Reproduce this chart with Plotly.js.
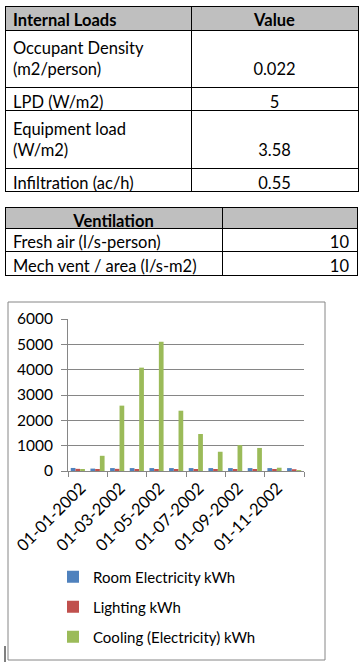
<!DOCTYPE html>
<html>
<head>
<meta charset="utf-8">
<script src="https://cdn.plot.ly/plotly-3.0.1.min.js"></script>
<style>html,body{margin:0;padding:0;background:#fff;}#chart{width:364px;height:667px;}</style>
</head>
<body>
<div id="chart"></div>
<script>
// ---- Table data ----
const loadsHeader = ['Internal Loads', 'Value'];
const loadsNames = ['Occupant Density<br>(m2/person)', 'LPD (W/m2)', 'Equipment load<br>(W/m2)', 'Infiltration (ac/h)'];
const loadsValues = ['\u00a0<br>0.022', '5', '\u00a0<br>3.58', '0.55'];

const ventHeader = ['Ventilation', ''];
const ventNames = ['Fresh air (l/s-person)', 'Mech vent / area (l/s-m2)'];
const ventValues = ['10', '10'];

// ---- Chart data ----
const months = ['01-01-2002','01-02-2002','01-03-2002','01-04-2002','01-05-2002','01-06-2002',
                '01-07-2002','01-08-2002','01-09-2002','01-10-2002','01-11-2002','01-12-2002'];
const roomElectricity = [120, 95, 115, 115, 115, 115, 115, 115, 115, 115, 115, 115];
const lighting = [85, 80, 85, 80, 80, 80, 80, 80, 80, 80, 80, 70];
const cooling = [80, 600, 2580, 4080, 5100, 2380, 1460, 760, 1020, 910, 130, 35];
const seriesNames = ['Room Electricity kWh', 'Lighting kWh', 'Cooling (Electricity) kWh'];

const W = 364, H = 667;
const px = v => v / W;
const py = v => 1 - v / H;
const FONT = 'Lato, "Liberation Sans", sans-serif';
// non-breaking spaces keep each table row on one line
const nb = s => s.replace(/ /g, '\u00a0');

const tableLine = {color: '#000000', width: 1};
const cellFont = {family: FONT, size: 16.5, color: '#000'};
const headFont = {family: FONT, size: 16.5, color: '#000', weight: 'bold'};

const traces = [
  {
    type: 'table',
    domain: {x: [px(5), px(358)], y: [py(205), py(6)]},
    columnwidth: [186, 167],
    header: {
      values: loadsHeader.map(nb),
      align: ['left', 'center'],
      fill: {color: '#bfbfbf'},
      line: tableLine,
      font: headFont,
      height: 24
    },
    cells: {
      values: [loadsNames.map(nb), loadsValues],
      align: ['left', 'center'],
      fill: {color: '#ffffff'},
      line: tableLine,
      font: cellFont,
      height: 23.5
    }
  },
  {
    type: 'table',
    domain: {x: [px(5), px(357)], y: [py(290), py(207)]},
    columnwidth: [217, 135],
    header: {
      values: ventHeader.map(nb),
      align: ['center', 'center'],
      fill: {color: '#bfbfbf'},
      line: tableLine,
      font: headFont,
      height: 21
    },
    cells: {
      values: [ventNames.map(nb), ventValues],
      align: ['left', 'right'],
      fill: {color: '#ffffff'},
      line: tableLine,
      font: cellFont,
      height: 23.5
    }
  },
  {type: 'bar', x: months, y: roomElectricity, name: seriesNames[0], marker: {color: '#4f81bd'}, legend: 'legend'},
  {type: 'bar', x: months, y: lighting, name: seriesNames[1], marker: {color: '#c0504d'}, legend: 'legend2'},
  {type: 'bar', x: months, y: cooling, name: seriesNames[2], marker: {color: '#9bbb59'}, legend: 'legend3'}
];

const legendBase = {
  orientation: 'v', xanchor: 'left', yanchor: 'middle',
  font: {family: FONT, size: 15, color: '#000'},
  bgcolor: 'rgba(0,0,0,0)', itemwidth: 30
};

const layout = {
  width: W, height: H,
  margin: {l: 0, r: 0, t: 0, b: 0},
  paper_bgcolor: '#fff', plot_bgcolor: '#fff',
  font: {family: FONT, size: 14, color: '#000'},
  barmode: 'group', bargap: 0.28, bargroupgap: 0,
  showlegend: true,
  legend: Object.assign({x: px(53), y: py(577)}, legendBase),
  legend2: Object.assign({x: px(53), y: py(607)}, legendBase),
  legend3: Object.assign({x: px(53), y: py(637)}, legendBase),
  xaxis: {
    type: 'category',
    domain: [px(68), px(304)],
    anchor: 'y',
    dtick: 2,
    tickson: 'boundaries',
    ticks: 'outside', ticklen: 5, tickcolor: '#868686',
    showline: true, linecolor: '#868686', linewidth: 1,
    showgrid: false,
    tickangle: -45,
    ticklabelshift: 3,
    tickfont: {family: FONT, size: 16.5, color: '#000'},
    fixedrange: true
  },
  yaxis: {
    domain: [py(471), py(319)],
    anchor: 'x',
    range: [0, 6000], dtick: 1000,
    ticks: 'outside', ticklen: 6, tickcolor: '#868686',
    showline: true, linecolor: '#868686', linewidth: 1,
    showgrid: true, gridcolor: '#868686', gridwidth: 1,
    zeroline: false,
    ticklabelstandoff: 5,
    tickfont: {family: FONT, size: 15.5, color: '#000'},
    fixedrange: true
  },
  shapes: [
    {type: 'rect', xref: 'paper', yref: 'paper', x0: px(8), x1: px(325), y0: py(660), y1: py(302),
     line: {color: '#868686', width: 1}, fillcolor: 'rgba(0,0,0,0)', layer: 'below'},
    {type: 'line', xref: 'paper', yref: 'paper', x0: px(5), x1: px(5), y0: py(662), y1: py(646),
     line: {color: '#000', width: 1}}
  ]
};

Plotly.newPlot('chart', traces, layout, {displayModeBar: false, staticPlot: true});
</script>
</body>
</html>
